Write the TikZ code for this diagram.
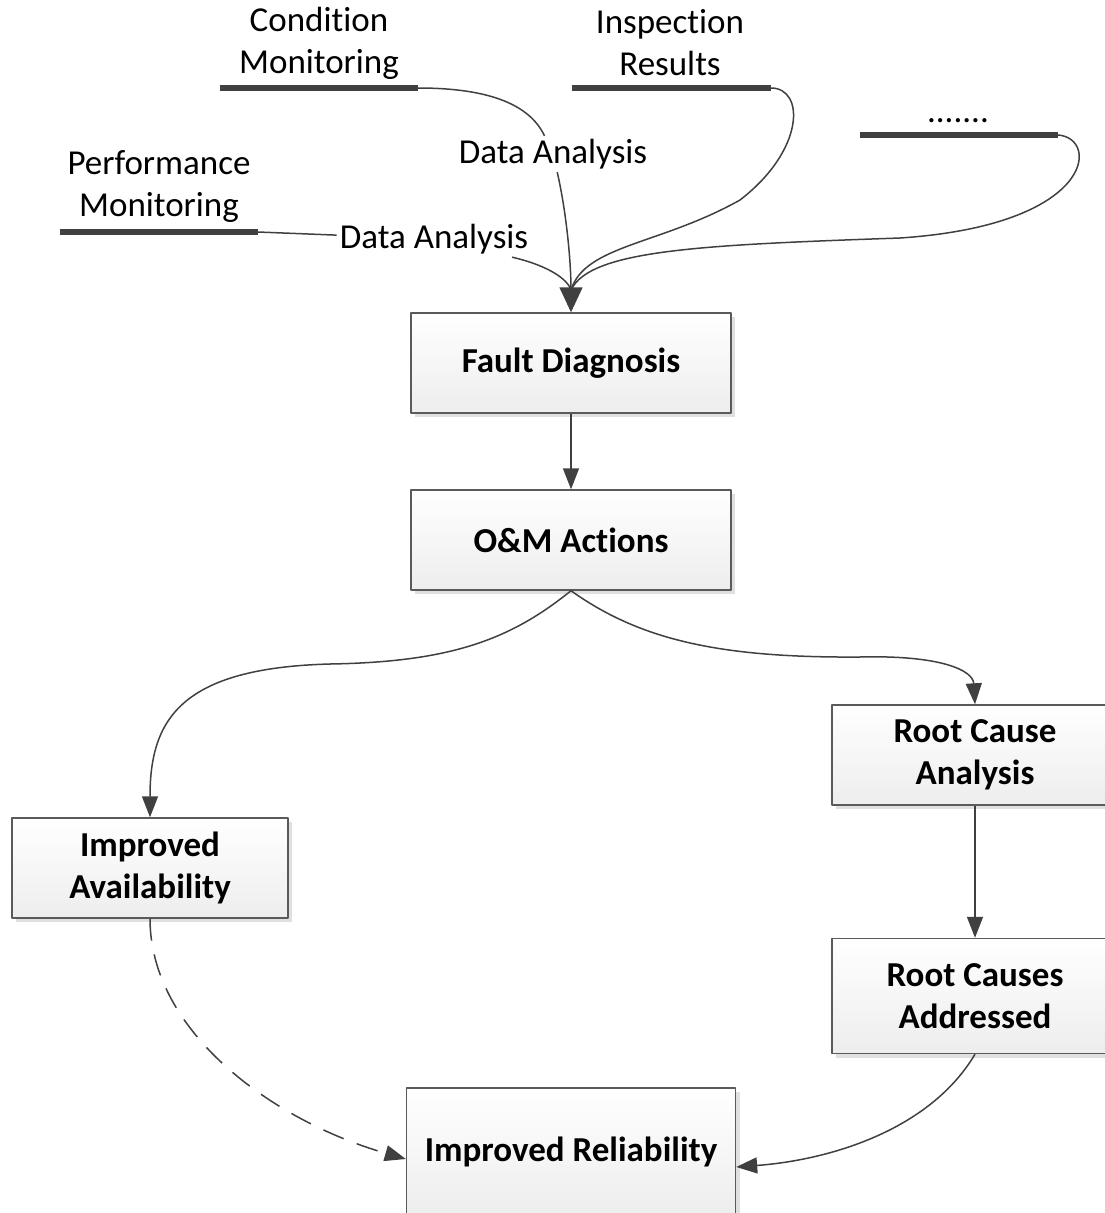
\documentclass[tikz,border=0pt]{standalone}
\usepackage{fontspec}
\setmainfont{Carlito}[Ligatures={NoCommon,NoRequired,NoContextual,NoRare}]
\usetikzlibrary{arrows.meta,shadows}
\definecolor{lineclr}{HTML}{404040}
\definecolor{boxedge}{HTML}{5A5A5A}

\begin{document}
\begin{tikzpicture}[x=1pt,y=-1pt,line join=round,
  font=\fontsize{35}{42}\selectfont,
  proc/.style={draw=boxedge,line width=1.4pt,top color=white,bottom color=black!7,
    drop shadow={shadow xshift=4pt,shadow yshift=-4pt,fill=black!12,opacity=1},
    align=center,font=\fontsize{35}{42}\selectfont\bfseries,inner sep=0pt},
  store/.style={draw=lineclr,line width=6pt},
  link/.style={draw=lineclr,line width=1.5pt},
  flow/.style={link,-{Triangle[width=16pt,length=21pt]}},
  lbl/.style={inner sep=3pt,align=center}]
  \useasboundingbox (0,0) rectangle (1105,1213);

  % Process boxes
  \node[proc,minimum width=320,minimum height=100] (fault) at (571,363) {Fault Diagnosis};
  \node[proc,minimum width=320,minimum height=100] (om) at (571,540) {O\&M Ac\kern0pt tions};
  \node[proc,minimum width=286,minimum height=100] (rca) at (975,755) {Root Cause\\Analysis};
  \node[proc,minimum width=276,minimum height=100] (avail) at (150,868) {Improved\\Availability};
  \node[proc,minimum width=286,minimum height=115] (rcad) at (975,996) {Root Causes\\Addressed};
  \node[proc,minimum width=329,minimum height=128] (rel) at (571,1152) {Improved Reliability};

  % Data stores
  \node[lbl] (cond) at (319,43) {Condition\\Monitoring};
  \node[lbl] (insp) at (670,43) {Inspec\kern0pt tion\\Results};
  \node[lbl] (dots) at (958,121) {.......};
  \node[lbl] (perf) at (159,187) {Performance\\Monitoring};
  \coordinate (condL) at (220,88);  \coordinate (condR) at (418,88);
  \coordinate (inspL) at (572,88);  \coordinate (inspR) at (771,88);
  \coordinate (dotsL) at (860,135); \coordinate (dotsR) at (1058,135);
  \coordinate (perfL) at (60,232);  \coordinate (perfR) at (258,232);
  \draw[store] (condL) -- (condR);
  \draw[store] (inspL) -- (inspR);
  \draw[store] (dotsL) -- (dotsR);
  \draw[store] (perfL) -- (perfR);

  % Data Analysis labels
  \node[lbl] (da1) at (553,154) {Data Analysis};
  \node[lbl] (da2) at (434,239) {Data Analysis};

  % Inputs to Fault Diagnosis
  \coordinate (join) at (571,290);
  \draw[link] (condR) .. controls (490,88) and (530,105) .. (da1);
  \draw[link] (da1) .. controls (566,210) and (571,260) .. (join);
  \draw[link] (inspR) .. controls (805,88) and (805,150) .. (740,200)
    .. controls (660,245) and (585,245) .. (join);
  \draw[link] (dotsR) .. controls (1100,138) and (1095,225) .. (900,238)
    .. controls (700,245) and (590,250) .. (join);
  \draw[link] (perfR) -- (da2);
  \draw[link] (da2) .. controls (550,266) and (568,280) .. (join);
  \draw[link,-{Triangle[width=23pt,length=25pt]}] (join) -- (fault.north);

  % Main flow
  \draw[flow] (fault) -- (om);
  \draw[flow] (om.south) .. controls (510,640) and (450,662) .. (330,664)
    .. controls (180,668) and (150,720) .. (avail.north);
  \draw[flow] (om.south) .. controls (640,640) and (720,658) .. (860,657)
    .. controls (940,655) and (973,670) .. (rca.north);
  \draw[flow] (rca) -- (rcad);
  \draw[flow,dash pattern=on 22pt off 14pt] (avail.south) .. controls (150,1030) and (270,1120) .. ([yshift=-7pt]rel.west);
  \draw[flow] (rcad.south) .. controls (930,1130) and (830,1160) .. ([yshift=-15pt]rel.east);
\end{tikzpicture}
\end{document}
